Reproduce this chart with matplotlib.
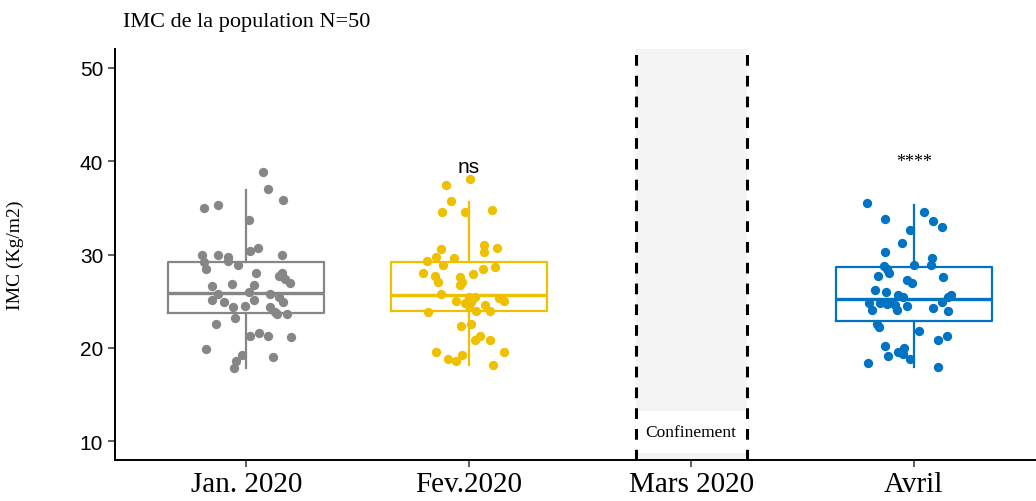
import matplotlib
matplotlib.use("Agg")
import matplotlib.pyplot as plt
import numpy as np

months = ["Jan. 2020", "Fev.2020", "Mars 2020", "Avril"]
box_months = [0, 1, 3]
colors = ["#868686", "#EFC000", "#0073C2"]

# box statistics (Jan, Fev, Avril)
q1 = [23.7, 23.9, 22.9]
med = [25.9, 25.7, 25.2]
q3 = [29.25, 29.15, 28.7]
whis_lo = [17.8, 18.2, 18.0]
whis_hi = [36.95, 35.6, 35.3]

jan_imc = [38.8, 37.06, 35.8, 34.95, 35.3, 33.7, 30.4, 30.7, 30.0, 30.0,
           29.7, 29.9, 29.2, 29.3, 28.9, 28.5, 28.0, 28.04, 27.75, 27.4,
           26.9, 26.6, 26.8, 26.7, 25.8, 26.0, 25.8, 25.5, 24.9, 25.1,
           24.9, 24.4, 24.5, 25.1, 24.4, 23.8, 23.6, 23.6, 23.2, 22.6,
           21.3, 21.55, 21.3, 21.2, 19.9, 19.05, 19.2, 18.55, 17.8]
jan_jit = [0.076, 0.096, 0.163, -0.19, -0.126, 0.013, 0.018, 0.055, -0.2, -0.126,
           -0.08, 0.16, -0.19, -0.08, -0.035, -0.18, 0.043, 0.16, 0.148, 0.175,
           0.197, -0.155, -0.066, 0.036, -0.128, 0.013, 0.108, 0.148, 0.163, -0.154,
           -0.1, -0.061, -0.006, 0.033, 0.108, 0.13, 0.14, 0.185, -0.05, -0.136,
           0.018, 0.058, 0.096, 0.2, -0.18, 0.118, -0.02, -0.046, -0.054]

fev_imc = [37.5, 38.1, 35.7, 34.6, 34.6, 34.8, 30.6, 31.0, 30.7, 30.25,
           29.75, 29.6, 29.3, 28.9, 28.05, 27.75, 27.1, 27.6, 27.95, 28.5,
           28.65, 27.1, 26.7, 25.8, 25.5, 25.5, 25.0, 24.8, 24.6, 25.3,
           25.0, 24.5, 23.9, 24.0, 23.8, 22.6, 22.3, 21.3, 20.8, 20.8,
           19.6, 19.6, 19.2, 18.8, 18.6, 18.2, 25.3, 24.9]
fev_jit = [-0.1, 0.008, -0.08, -0.12, -0.015, 0.105, -0.124, 0.067, 0.127, 0.067,
           -0.147, -0.067, -0.187, -0.117, -0.205, -0.15, -0.14, -0.037, 0.02, 0.063,
           0.117, -0.03, -0.037, -0.124, 0.0, 0.027, -0.057, -0.015, 0.075, 0.135,
           0.157, 0.0, 0.034, 0.097, -0.184, 0.01, -0.034, 0.049, 0.027, 0.097,
           -0.145, 0.157, -0.03, -0.094, -0.055, 0.109, 0.02, 0.012]

avr_imc = [35.5, 34.6, 33.8, 33.6, 33.0, 32.6, 31.25, 30.3, 29.6, 28.9,
           28.9, 28.8, 28.4, 27.97, 27.7, 27.6, 27.3, 26.9, 26.2, 26.0,
           25.7, 25.4, 25.7, 25.4, 24.9, 24.8, 24.8, 24.9, 24.6, 24.5,
           24.65, 24.1, 24.1, 24.25, 23.9, 22.6, 22.2, 21.8, 21.3, 20.8,
           20.2, 20.0, 19.6, 19.1, 19.3, 18.8, 18.4, 17.9]
avr_jit = [-0.208, 0.048, -0.129, 0.088, 0.126, -0.016, -0.054, -0.129, 0.081, 0.003,
           0.078, -0.133, -0.118, -0.109, -0.161, 0.133, -0.031, -0.009, -0.174, -0.126,
           -0.069, -0.049, 0.166, 0.156, 0.126, -0.199, -0.151, -0.102, -0.084, -0.031,
           -0.121, -0.188, -0.076, 0.088, 0.156, -0.166, -0.154, 0.026, 0.148, 0.108,
           -0.131, -0.043, -0.069, -0.117, -0.046, -0.016, -0.206, 0.108]

points = [(jan_imc, jan_jit), (fev_imc, fev_jit), (avr_imc, avr_jit)]
signif = ["ns", "****"]

fig = plt.figure(figsize=(10.36, 5.02), dpi=100)
ax = fig.add_axes([0.111, 0.082, 0.889, 0.818])

x = np.arange(1, len(months) + 1)

# confinement period
ax.axvspan(x[2] - 0.25, x[2] + 0.25, color="#f4f4f4", zorder=0.5, lw=0)
for xv in [x[2] - 0.25, x[2] + 0.25]:
    ax.axvline(xv, color="black", lw=2.2, linestyle=(0, (3.5, 3.3)), zorder=2)
ax.text(x[2], 11.0, "Confinement", ha="center", va="center", fontsize=12.5,
        family="Liberation Serif", zorder=1,
        bbox=dict(boxstyle="square,pad=0.75", fc="white", ec="none"))

for i, m in enumerate(box_months):
    c = colors[i]
    stat = dict(med=med[i], q1=q1[i], q3=q3[i], whislo=whis_lo[i],
                whishi=whis_hi[i], fliers=[])
    ax.bxp([stat], positions=[x[m]], widths=0.7, showfliers=False, showcaps=False,
           boxprops=dict(color=c, lw=1.6), whiskerprops=dict(color=c, lw=1.6),
           medianprops=dict(color=c, lw=2.4), manage_ticks=False)
    vals, jit = points[i]
    ax.scatter(x[m] + np.array(jit), vals, s=45, color=c, linewidths=0, zorder=3)

ax.text(x[1], 39.4, signif[0], ha="center", va="center", fontsize=15,
        family="Liberation Sans")
ax.text(x[3], 40.0, signif[1], ha="center", va="center", fontsize=13,
        family="Liberation Serif")

ax.set_xlim(0.41, 4.55)
ax.set_ylim(8, 52)
ax.set_yticks([10, 20, 30, 40, 50])
ax.set_xticks(x)
ax.set_xticklabels(months, family="Liberation Serif", fontsize=21)
for lab in ax.get_yticklabels():
    lab.set_family("Liberation Sans")
    lab.set_fontsize(15)
ax.tick_params(axis="both", length=5, width=1.1, color="#333333")
ax.tick_params(axis="x", pad=3)
ax.set_ylabel("IMC (Kg/m2)", family="Liberation Serif", fontsize=14, labelpad=40)

for s in ["top", "right"]:
    ax.spines[s].set_visible(False)
for s in ["left", "bottom"]:
    ax.spines[s].set_linewidth(1.4)

fig.text(0.119, 0.955, "IMC de la population N=50", family="Liberation Serif",
         fontsize=16, ha="left", va="center")

fig.savefig("out.png", dpi=100)
